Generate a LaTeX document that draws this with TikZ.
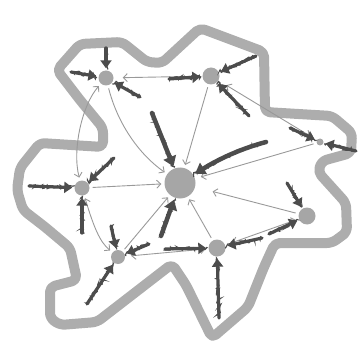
\documentclass[tikz,border=0pt]{standalone}
\usetikzlibrary{arrows.meta,decorations.pathmorphing}
\definecolor{oline}{gray}{0.68}
\definecolor{nodeg}{gray}{0.65}
\definecolor{thin}{gray}{0.6}
\definecolor{dark}{gray}{0.3}
\begin{document}
\pgfmathsetseed{7}
\begin{tikzpicture}[x=1pt,y=-1pt,
  hub/.style={circle,fill=nodeg,inner sep=0pt,minimum size=#1},
  link/.style={draw=thin,line width=0.9pt,shorten >=3pt,shorten <=3pt},
  oneway/.style={arrows={-Straight Barb[length=4pt,width=8pt]}},
  twoway/.style={arrows={Straight Barb[length=4pt,width=8pt]-Straight Barb[length=4pt,width=8pt]}},
  fuzz/.style={draw=dark,line width=3.2pt,line cap=round,
    -{Triangle[length=8pt,width=11pt]},shorten >=2pt,
    postaction={draw=dark,-,line width=1.2pt,decorate,
      decoration={random steps,segment length=1.3pt,amplitude=2pt}}},
  bigfuzz/.style={fuzz,line width=4.5pt,-{Triangle[length=10pt,width=13pt]}},
  rim/.style={draw=oline,line width=10pt,rounded corners=5pt,line join=round}
]
\useasboundingbox (0,0) rectangle (363,347);
% outline
\draw[rim] (57,70) -- (80,44) -- (122,42) -- (147,62) -- (162,63) -- (200,28)
  -- (264,52) -- (265,112) -- (332,116) -- (352,133) -- (351,153) -- (322,161)
  -- (318,172) -- (346,203) -- (347,232) -- (332,243) -- (275,243) -- (264,267)
  -- (248,307) -- (212,338) -- (186,285) -- (172,264) -- (97,322) -- (60,325)
  -- (50,318) -- (50,287) -- (77,280) -- (70,248) -- (45,227) -- (23,210)
  -- (17,190) -- (20,168) -- (40,143) -- (103,147) -- (103,128) -- (80,100) -- cycle;
% nodes
\node[hub=15pt] (a) at (106,78) {};
\node[hub=17pt] (b) at (211,76) {};
\node[hub=7pt]  (c) at (320,142) {};
\node[hub=31pt] (d) at (180,183) {};
\node[hub=15pt] (e) at (82,188) {};
\node[hub=14pt] (f) at (118,257) {};
\node[hub=17pt] (g) at (217,248) {};
\node[hub=17pt] (h) at (307,216) {};
% thin connectors
\draw[link,twoway] (a) .. controls (82,105) and (72,150) .. (e);
\draw[link,oneway] (a) .. controls (118,125) and (140,155) .. (d);
\draw[link,oneway,shorten >=9pt] (b) -- (a);
\draw[link,oneway] (b) -- (d);
\draw[link,twoway,shorten <=9pt,shorten >=8pt] (b) -- (c);
\draw[link,oneway,shorten >=6pt] (c) -- (d);
\draw[link,oneway,shorten >=18pt] (h) -- (d);
\draw[link,oneway] (g) -- (d);
\draw[link,twoway,shorten <=8pt] (g) -- (h);
\draw[link,oneway] (f) -- (d);
\draw[link,oneway] (e) -- (d);
\draw[link,twoway] (e) .. controls (94,228) and (100,242) .. (f);
\draw[link,twoway,shorten <=6pt] (f) -- (g);
% free ends of the dark arrows
\coordinate (a1) at (106,48);
\coordinate (a2) at (71,72);
\coordinate (a3) at (140,97);
\coordinate (b1) at (256,56);
\coordinate (b2) at (169,79);
\coordinate (b3) at (249,116);
\coordinate (c1) at (290,128);
\coordinate (c2) at (356,151);
\coordinate (d1) at (152,113);
\coordinate (d2) at (266,142);
\coordinate (d3) at (161,236);
\coordinate (e1) at (29,186);
\coordinate (e2) at (114,158);
\coordinate (e3) at (82,233);
\coordinate (f1) at (111,226);
\coordinate (f2) at (149,244);
\coordinate (f3) at (87,304);
\coordinate (g1) at (165,249);
\coordinate (g2) at (219,318);
\coordinate (g3) at (262,238);
\coordinate (h1) at (287,183);
\coordinate (h2) at (269,234);
% dark arrows
\draw[fuzz] (a1) -- (a);
\draw[fuzz] (a2) -- (a);
\draw[fuzz] (a3) -- (a);
\draw[fuzz] (b1) -- (b);
\draw[fuzz] (b2) -- (b);
\draw[fuzz] (b3) -- (b);
\draw[fuzz] (c1) -- (c);
\draw[fuzz] (c2) -- (c);
\draw[bigfuzz] (d1) -- (d);
\draw[bigfuzz] (d2) .. controls (236,150) and (214,162) .. (d);
\draw[bigfuzz] (d3) -- (d);
\draw[fuzz] (e1) -- (e);
\draw[fuzz] (e2) -- (e);
\draw[fuzz] (e3) -- (e);
\draw[fuzz] (f1) -- (f);
\draw[fuzz] (f2) -- (f);
\draw[fuzz] (f3) -- (f);
\draw[fuzz] (g1) -- (g);
\draw[fuzz] (g2) -- (g);
\draw[fuzz] (g3) -- (g);
\draw[fuzz] (h1) -- (h);
\draw[fuzz] (h2) -- (h);
\end{tikzpicture}
\end{document}
